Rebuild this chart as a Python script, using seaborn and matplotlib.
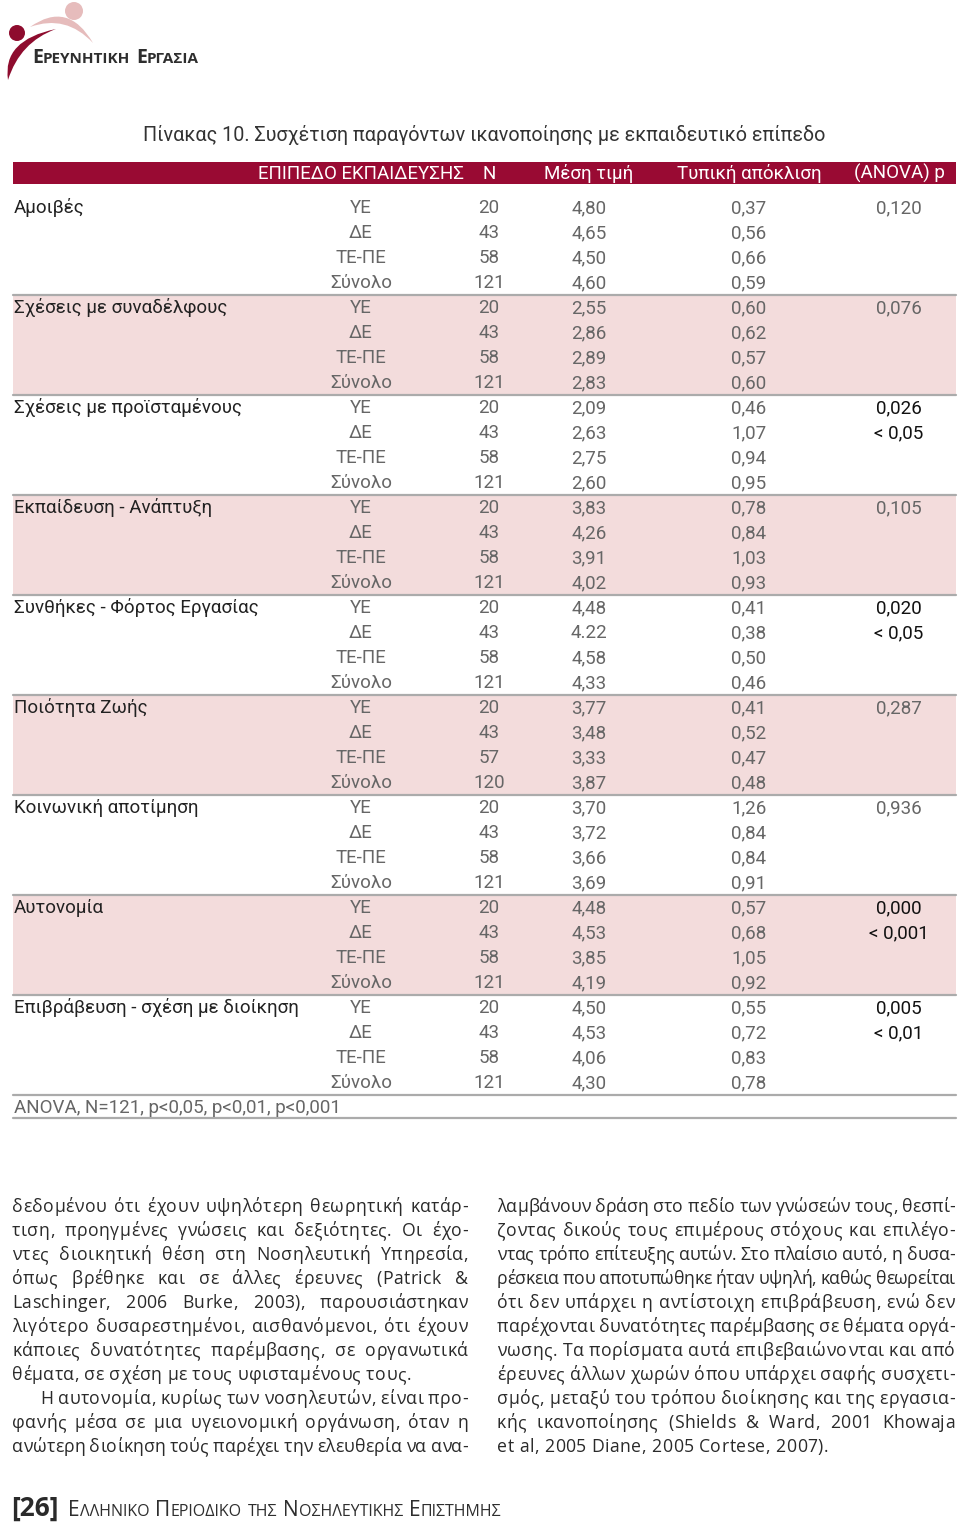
import matplotlib
matplotlib.use("Agg")
import numpy as np
import pandas as pd
import matplotlib.pyplot as plt
import seaborn as sns
from matplotlib.colors import ListedColormap
from matplotlib.patches import Rectangle, Circle, PathPatch
from matplotlib.path import Path

sns.set_theme(style="white")
plt.rcParams['font.family'] = ['Roboto', 'DejaVu Sans']

# --- table data ---
factors = ["Αμοιβές", "Σχέσεις με συναδέλφους", "Σχέσεις με προϊσταμένους",
           "Εκπαίδευση - Ανάπτυξη", "Συνθήκες - Φόρτος Εργασίας", "Ποιότητα Ζωής",
           "Κοινωνική αποτίμηση", "Αυτονομία", "Επιβράβευση - σχέση με διοίκηση"]
levels = ["ΥΕ", "ΔΕ", "ΤΕ-ΠΕ", "Σύνολο"]
n_counts = [[20, 43, 58, 121], [20, 43, 58, 121], [20, 43, 58, 121],
            [20, 43, 58, 121], [20, 43, 58, 121], [20, 43, 57, 120],
            [20, 43, 58, 121], [20, 43, 58, 121], [20, 43, 58, 121]]
means = [["4,80", "4,65", "4,50", "4,60"], ["2,55", "2,86", "2,89", "2,83"],
         ["2,09", "2,63", "2,75", "2,60"], ["3,83", "4,26", "3,91", "4,02"],
         ["4,48", "4.22", "4,58", "4,33"], ["3,77", "3,48", "3,33", "3,87"],
         ["3,70", "3,72", "3,66", "3,69"], ["4,48", "4,53", "3,85", "4,19"],
         ["4,50", "4,53", "4,06", "4,30"]]
sds = [["0,37", "0,56", "0,66", "0,59"], ["0,60", "0,62", "0,57", "0,60"],
       ["0,46", "1,07", "0,94", "0,95"], ["0,78", "0,84", "1,03", "0,93"],
       ["0,41", "0,38", "0,50", "0,46"], ["0,41", "0,52", "0,47", "0,48"],
       ["1,26", "0,84", "0,84", "0,91"], ["0,57", "0,68", "1,05", "0,92"],
       ["0,55", "0,72", "0,83", "0,78"]]
p_values = ["0,120", "0,076", "0,026", "0,105", "0,020", "0,287", "0,936", "0,000", "0,005"]
p_notes = ["", "", "< 0,05", "", "< 0,05", "", "", "< 0,001", "< 0,01"]
headers = ["ΕΠΙΠΕΔΟ ΕΚΠΑΙΔΕΥΣΗΣ", "N", "Μέση τιμή", "Τυπική απόκλιση", "(ANOVA) p"]

title = "Πίνακας 10. Συσχέτιση παραγόντων ικανοποίησης με εκπαιδευτικό επίπεδο"
footnote = "ANOVA, N=121, p<0,05, p<0,01, p<0,001"

left_lines = [
    "δεδομένου ότι έχουν υψηλότερη θεωρητική κατάρ-",
    "τιση, προηγμένες γνώσεις και δεξιότητες. Οι έχο-",
    "ντες διοικητική θέση στη Νοσηλευτική Υπηρεσία,",
    "όπως βρέθηκε και σε άλλες έρευνες (Patrick &",
    "Laschinger, 2006 Burke, 2003), παρουσιάστηκαν",
    "λιγότερο δυσαρεστημένοι, αισθανόμενοι, ότι έχουν",
    "κάποιες δυνατότητες παρέμβασης, σε οργανωτικά",
    "θέματα, σε σχέση με τους υφισταμένους τους.",
    "Η αυτονομία, κυρίως των νοσηλευτών, είναι προ-",
    "φανής μέσα σε μια υγειονομική οργάνωση, όταν η",
    "ανώτερη διοίκηση τούς παρέχει την ελευθερία να ανα-",
]
right_lines = [
    "λαμβάνουν δράση στο πεδίο των γνώσεών τους, θεσπί-",
    "ζοντας δικούς τους επιμέρους στόχους και επιλέγο-",
    "ντας τρόπο επίτευξης αυτών. Στο πλαίσιο αυτό, η δυσα-",
    "ρέσκεια που αποτυπώθηκε ήταν υψηλή, καθώς θεωρείται",
    "ότι δεν υπάρχει η αντίστοιχη επιβράβευση, ενώ δεν",
    "παρέχονται δυνατότητες παρέμβασης σε θέματα οργά-",
    "νωσης. Τα πορίσματα αυτά επιβεβαιώνονται και από",
    "έρευνες άλλων χωρών όπου υπάρχει σαφής συσχετι-",
    "σμός, μεταξύ του τρόπου διοίκησης και της εργασια-",
    "κής ικανοποίησης (Shields & Ward, 2001 Khowaja",
    "et al, 2005 Diane, 2005 Cortese, 2007).",
]

# long table, one row per factor/level
rows = []
for g, f in enumerate(factors):
    for k, lev in enumerate(levels):
        rows.append(dict(group=g, factor=f if k == 0 else "", level=lev,
                         n=n_counts[g][k], mean=means[g][k], sd=sds[g][k],
                         p=[p_values[g], p_notes[g], "", ""][k],
                         sig=p_notes[g] != ""))
df = pd.DataFrame(rows)

RED = "#990a33"
PINK = "#f3dcdc"
GRAY = "#666666"
DARK = "#222222"
LINE = "#ababab"
BODY_FONT = ["Open Sans", "DejaVu Sans"]

fig = plt.figure(figsize=(9.6, 15.23), dpi=100)
page = fig.add_axes([0, 0, 1, 1])
page.set_xlim(0, 960)
page.set_ylim(1523, 0)
page.axis("off")
r = fig.canvas.get_renderer()


def width_of(t):
    return t.get_window_extent(r).width


def small_caps(x, y, words, big, small, gap, **kw):
    for first, rest in words:
        if first:
            t = page.text(x, y, first, fontsize=big, va="baseline", **kw)
            x += width_of(t)
        t = page.text(x, y, rest, fontsize=small, va="baseline", **kw)
        x += width_of(t) + gap


char_w = {}


def cw(c, size):
    # advance width: measure between two fixed glyphs so side bearings count
    if c not in char_w:
        a = page.text(0, 0, "H" + c + "H", fontsize=size, family=BODY_FONT)
        b = page.text(0, 0, "HH", fontsize=size, family=BODY_FONT)
        char_w[c] = width_of(a) - width_of(b)
        a.remove()
        b.remove()
    return char_w[c]


def justified(lines, x0, x1, y0, step, last, indent, size, track=0.5, min_gap=4.5):
    for i, line in enumerate(lines):
        y = y0 + i * step
        xl = x0 + indent.get(i, 0)
        words = line.split()
        ink = sum(cw(c, size) for w in words for c in w)
        inner = sum(len(w) - 1 for w in words)
        t = track
        if i in last:
            gap = size * 0.42
        else:
            gap = (x1 - xl - ink - t * inner) / (len(words) - 1)
            if gap < min_gap:
                t = (x1 - xl - ink - min_gap * (len(words) - 1)) / inner
                gap = min_gap
        x = xl
        for w in words:
            for c in w:
                page.text(x, y, c, fontsize=size, color="#2a2a2a", va="baseline", family=BODY_FONT)
                x += cw(c, size) + t
            x += gap - t


# --- logo ---
red_body = Path([(8, 80), (2, 40), (56, 29), (56, 29), (20, 42), (8, 80)],
                [Path.MOVETO, Path.CURVE3, Path.CURVE3, Path.LINETO, Path.CURVE3, Path.CURVE3])
pink_body = Path([(30, 27), (68, 0), (93, 43), (93, 43), (66, 14), (30, 27)],
                 [Path.MOVETO, Path.CURVE3, Path.CURVE3, Path.LINETO, Path.CURVE3, Path.CURVE3])
page.add_patch(PathPatch(pink_body, fc="#e6bcbc", ec="none"))
page.add_patch(Circle((74, 11), 9, fc="#e6bcbc", ec="none"))
page.add_patch(PathPatch(red_body, fc="#8e0c2e", ec="none"))
page.add_patch(Circle((17, 33), 8, fc="#8e0c2e", ec="none"))
small_caps(32, 63, [("Ε", "ΡΕΥΝΗΤΙΚΗ"), ("Ε", "ΡΓΑΣΙΑ")], 14, 11, 6,
           color="#2e2e2e", family=BODY_FONT, fontweight="bold")

# --- title ---
page.text(143, 141, title, fontsize=14.2, color="#333333", va="baseline")

# --- header bar ---
page.add_patch(Rectangle((13, 162), 943, 22, fc=RED, ec="none"))
col_x = [361, 489, 589, 749, 899]
for x, h in zip(col_x, headers):
    page.text(x, 179, h, fontsize=13.5, color="white", ha="center", va="baseline")

# --- table body: shading via seaborn heatmap ---
top, row_h, n_rows = 195, 25.0, len(df)
tab = fig.add_axes([13 / 960, 1 - (top + n_rows * row_h) / 1523, 943 / 960, n_rows * row_h / 1523])
shade = (df["group"] % 2).to_numpy().reshape(-1, 1)
sns.heatmap(shade, ax=tab, cmap=ListedColormap(["white", PINK]), cbar=False,
            xticklabels=False, yticklabels=False, vmin=0, vmax=1)
tab.set_xlim(13, 956)
tab.collections[0].set_transform(
    matplotlib.transforms.Affine2D().scale(943, 1).translate(13, 0) + tab.transData)

for g in range(1, len(factors) + 1):
    tab.axhline(g * len(levels), color=LINE, lw=1.6, clip_on=False)

for i, row in df.iterrows():
    y = i + 0.72
    if row["factor"]:
        tab.text(14, y, row["factor"], fontsize=13.5, color=DARK, va="baseline")
    tab.text(col_x[0], y, row["level"], fontsize=13.5, color=GRAY, ha="center", va="baseline")
    tab.text(col_x[1], y, str(row["n"]), fontsize=13.5, color=GRAY, ha="center", va="baseline")
    tab.text(col_x[2], y, row["mean"], fontsize=13.5, color=GRAY, ha="center", va="baseline")
    tab.text(col_x[3], y, row["sd"], fontsize=13.5, color=GRAY, ha="center", va="baseline")
    if row["p"]:
        if row["sig"]:
            tab.text(col_x[4], y, row["p"], fontsize=13.5, color="#111111", ha="center", va="baseline")
        else:
            tab.text(col_x[4], y, row["p"], fontsize=13.5, color=GRAY, ha="center", va="baseline")

# footnote
page.text(14, 1113, footnote, fontsize=13.5, color=GRAY, va="baseline")
page.plot([13, 956], [1118, 1118], color=LINE, lw=1.6)

# --- body text ---
justified(left_lines, 12, 468, 1212, 24, last={7}, indent={8: 28}, size=12.7)
justified(right_lines, 497, 955, 1212, 24, last={10}, indent={}, size=12.7)

# --- footer ---
page.text(11, 1516, "[26]", fontsize=19, color="#2a2a2a", va="baseline",
          family=BODY_FONT, fontweight="bold")
small_caps(68, 1516, [("Ε", "ΛΛΗΝΙΚΟ"), ("Π", "ΕΡΙΟΔΙΚΟ"), ("", "ΤΗΣ"), ("Ν", "ΟΣΗΛΕΥΤΙΚΗΣ"), ("Ε", "ΠΙΣΤΗΜΗΣ")],
           15, 11.5, 6, color="#2e2e2e", family=BODY_FONT)

fig.savefig("out.png", dpi=100)
